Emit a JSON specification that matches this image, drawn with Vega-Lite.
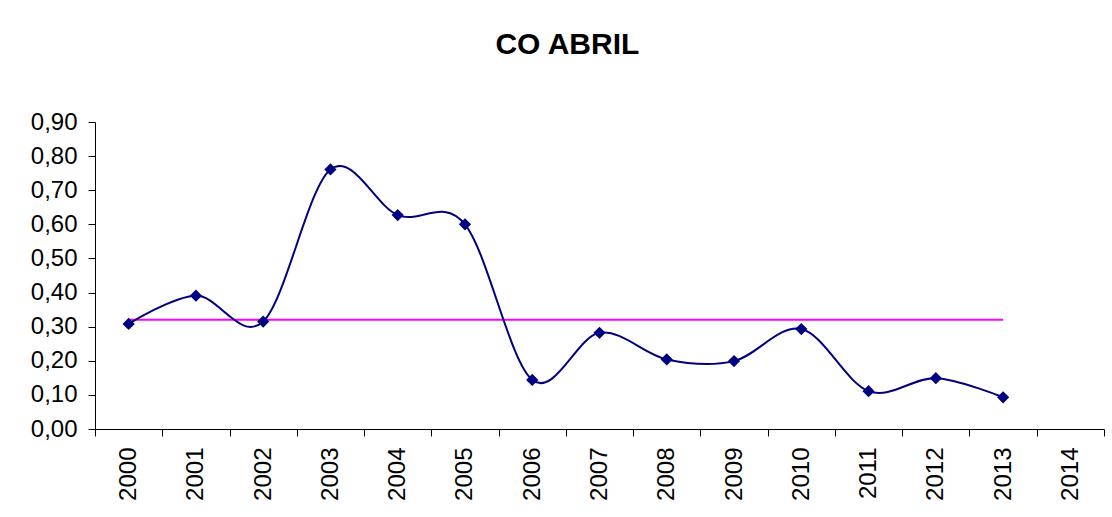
{
  "$schema": "https://vega.github.io/schema/vega-lite/v6.json",
  "autosize": "none",
  "width": 1009,
  "height": 307,
  "padding": {"left": 95, "top": 122, "right": 8, "bottom": 88},
  "background": "white",
  "config": {
    "locale": {"number": {"decimal": ",", "thousands": ".", "grouping": [3], "currency": ["", " €"]}},
    "font": "Liberation Sans",
    "view": {"stroke": null}
  },
  "title": {"text": "CO ABRIL", "font": "Liberation Sans", "fontSize": 30, "fontWeight": "bold", "color": "black", "anchor": "middle", "frame": "bounds", "offset": 50},
  "data": {"values": [
    {"anio": "2000", "valor": 0.308, "media": 0.32},
    {"anio": "2001", "valor": 0.391, "media": 0.32},
    {"anio": "2002", "valor": 0.315, "media": 0.32},
    {"anio": "2003", "valor": 0.761, "media": 0.32},
    {"anio": "2004", "valor": 0.627, "media": 0.32},
    {"anio": "2005", "valor": 0.600, "media": 0.32},
    {"anio": "2006", "valor": 0.144, "media": 0.32},
    {"anio": "2007", "valor": 0.282, "media": 0.32},
    {"anio": "2008", "valor": 0.204, "media": 0.32},
    {"anio": "2009", "valor": 0.199, "media": 0.32},
    {"anio": "2010", "valor": 0.293, "media": 0.32},
    {"anio": "2011", "valor": 0.111, "media": 0.32},
    {"anio": "2012", "valor": 0.149, "media": 0.32},
    {"anio": "2013", "valor": 0.093, "media": 0.32}
  ]},
  "encoding": {
    "x": {
      "field": "anio", "type": "ordinal", "title": null,
      "scale": {"type": "band", "domain": ["2000","2001","2002","2003","2004","2005","2006","2007","2008","2009","2010","2011","2012","2013","2014"], "paddingInner": 0, "paddingOuter": 0},
      "axis": {"labelAngle": -90, "tickBand": "extent", "labelPadding": 11, "labelFontSize": 24, "labelFont": "Liberation Sans", "labelColor": "black", "domainColor": "black", "tickColor": "black", "tickSize": 7, "grid": false, "labelOverlap": false}
    },
    "y": {"field": "valor", "type": "quantitative", "title": null, "scale": {"domain": [0, 0.9], "nice": false},
      "axis": {"format": ".2f", "values": [0, 0.1, 0.2, 0.3, 0.4, 0.5, 0.6, 0.7, 0.8, 0.9], "tickCount": 10, "labelPadding": 11, "labelFontSize": 24, "labelFont": "Liberation Sans", "labelColor": "black", "domainColor": "black", "tickColor": "black", "tickSize": 7, "grid": false, "labelOverlap": false, "labelFlush": false}}
  },
  "layer": [
    {
      "mark": {"type": "line", "color": "#FF00FF", "strokeWidth": 2},
      "encoding": {"y": {"field": "media", "type": "quantitative"}}
    },
    {
      "mark": {"type": "line", "color": "#000080", "strokeWidth": 2, "interpolate": "cardinal", "tension": 0}
    },
    {
      "mark": {"type": "point", "shape": "diamond", "filled": true, "color": "#000080", "size": 150, "opacity": 1}
    }
  ]
}
